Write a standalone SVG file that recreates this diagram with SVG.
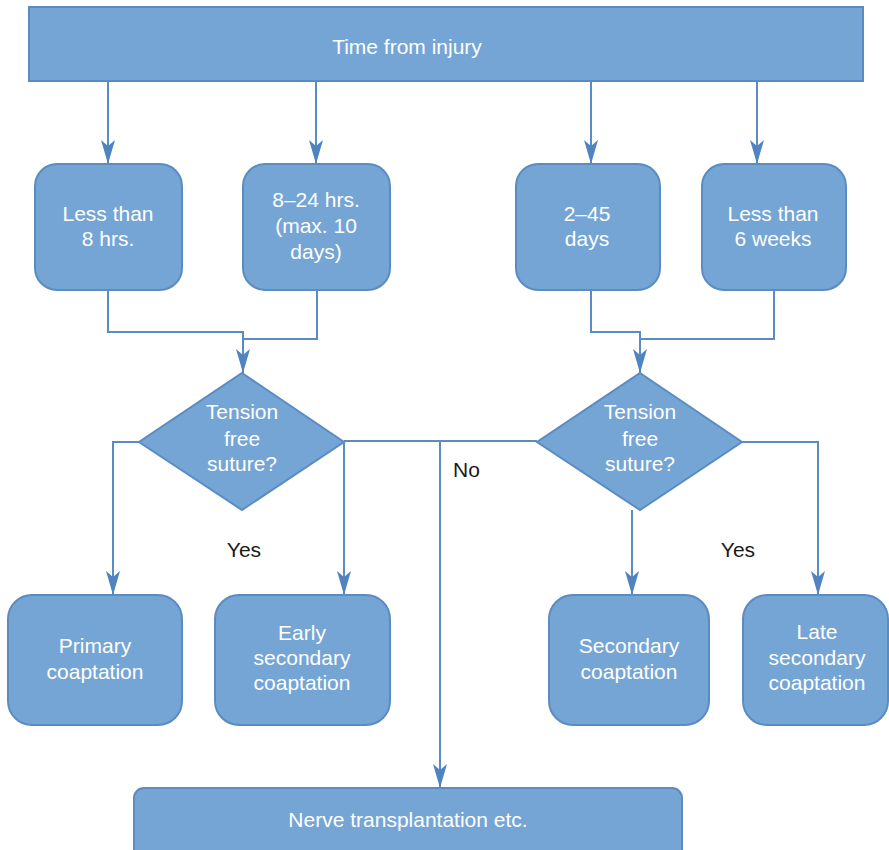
<svg xmlns="http://www.w3.org/2000/svg" width="889" height="850" viewBox="0 0 889 850">
<style>
.box{fill:#75a5d5;stroke:#5a8cc2;stroke-width:2}
.t{font-family:"Liberation Sans",Arial,sans-serif;font-size:21px;fill:#ffffff;text-anchor:middle}
.lbl{font-family:"Liberation Sans",Arial,sans-serif;font-size:21px;fill:#1a1a1a}
.c{fill:none;stroke:#5a8cc4;stroke-width:2}
</style>
<defs>
<marker id="ah" markerUnits="userSpaceOnUse" markerWidth="26" markerHeight="16" viewBox="0 -8 26 16" refX="24" refY="0" orient="auto">
<path d="M0,-7 L24,0 L0,7 L6,0 z" fill="#4f84c0"/>
</marker>
</defs>
<rect width="889" height="850" fill="#ffffff"/>
<g id="connectors">
<path class="c" d="M108,81 V164" marker-end="url(#ah)"/>
<path class="c" d="M316,81 V164" marker-end="url(#ah)"/>
<path class="c" d="M591,81 V164" marker-end="url(#ah)"/>
<path class="c" d="M757,81 V164" marker-end="url(#ah)"/>
<path class="c" d="M108,290 V332 H243 V373" marker-end="url(#ah)"/>
<path class="c" d="M317,290 V339 H243"/>
<path class="c" d="M591,290 V332 H640 V373" marker-end="url(#ah)"/>
<path class="c" d="M774,290 V339 H640"/>
<path class="c" d="M139,442 H113 V595" marker-end="url(#ah)"/>
<path class="c" d="M344,442 V595" marker-end="url(#ah)"/>
<path class="c" d="M344,441 H537"/>
<path class="c" d="M440,441 V788" marker-end="url(#ah)"/>
<path class="c" d="M632,510 V595" marker-end="url(#ah)"/>
<path class="c" d="M742,442 H818 V595" marker-end="url(#ah)"/>
</g>
<g id="top">
<rect class="box" x="29" y="7" width="834" height="74"/>
<text class="t" x="407" y="54">Time from injury</text>
</g>
<g id="b1">
<rect class="box" x="35" y="164" width="147" height="126" rx="22"/>
<text class="t" x="108" y="221">Less than</text>
<text class="t" x="108" y="246">8 hrs.</text>
</g>
<g id="b2">
<rect class="box" x="243" y="164" width="147" height="126" rx="22"/>
<text class="t" x="316" y="207">8–24 hrs.</text>
<text class="t" x="316" y="233">(max. 10</text>
<text class="t" x="316" y="259">days)</text>
</g>
<g id="b3">
<rect class="box" x="516" y="164" width="144" height="126" rx="22"/>
<text class="t" x="587" y="221">2–45</text>
<text class="t" x="587" y="246">days</text>
</g>
<g id="b4">
<rect class="box" x="702" y="164" width="144" height="126" rx="22"/>
<text class="t" x="773" y="221">Less than</text>
<text class="t" x="773" y="246">6 weeks</text>
</g>
<g id="d1">
<polygon class="box" points="242,373 344,442 242,510 139,442"/>
<text class="t" x="242" y="419">Tension</text>
<text class="t" x="242" y="446">free</text>
<text class="t" x="242" y="471">suture?</text>
</g>
<g id="d2">
<polygon class="box" points="640,373 742,442 640,510 537,442"/>
<text class="t" x="640" y="419">Tension</text>
<text class="t" x="640" y="446">free</text>
<text class="t" x="640" y="471">suture?</text>
</g>
<g id="labels">
<text class="lbl" x="244" y="557" text-anchor="middle">Yes</text>
<text class="lbl" x="738" y="557" text-anchor="middle">Yes</text>
<text class="lbl" x="453" y="477">No</text>
</g>
<g id="r1">
<rect class="box" x="8" y="595" width="174" height="130" rx="24"/>
<text class="t" x="95" y="653">Primary</text>
<text class="t" x="95" y="679">coaptation</text>
</g>
<g id="r2">
<rect class="box" x="215" y="595" width="175" height="130" rx="24"/>
<text class="t" x="302" y="640">Early</text>
<text class="t" x="302" y="665">secondary</text>
<text class="t" x="302" y="690">coaptation</text>
</g>
<g id="r3">
<rect class="box" x="549" y="595" width="160" height="130" rx="24"/>
<text class="t" x="629" y="653">Secondary</text>
<text class="t" x="629" y="679">coaptation</text>
</g>
<g id="r4">
<rect class="box" x="743" y="595" width="145" height="130" rx="24"/>
<text class="t" x="817" y="639">Late</text>
<text class="t" x="817" y="665">secondary</text>
<text class="t" x="817" y="690">coaptation</text>
</g>
<g id="nerve">
<rect class="box" x="134" y="788" width="548" height="72" rx="10"/>
<text class="t" x="408" y="827">Nerve transplantation etc.</text>
</g>
</svg>
